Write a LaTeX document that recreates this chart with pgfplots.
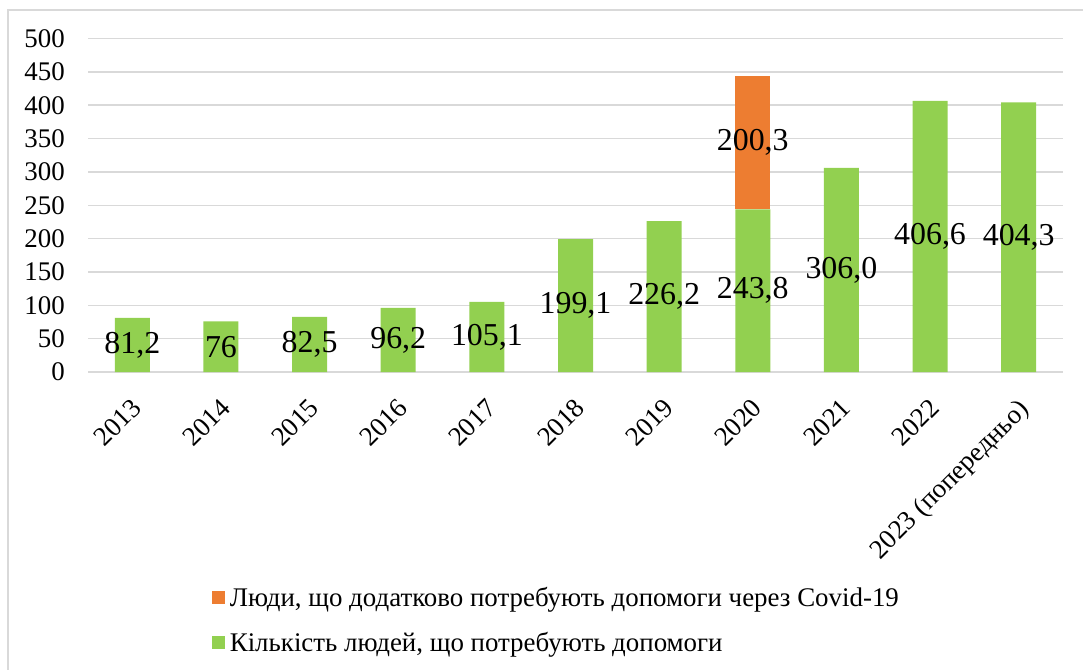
\documentclass[border=0pt]{standalone}
\usepackage{pgfplots}
\pgfplotsset{compat=1.18}
\usepackage{pgfplotstable}
\usepackage{fontspec}
\setmainfont{Liberation Serif}
\definecolor{barGreen}{HTML}{92D050}
\definecolor{barOrange}{HTML}{ED7D31}
\definecolor{gridgray}{HTML}{D9D9D9}

\pgfplotstableread{
x v lab
0 81.2 {81,2}
1 76 {76}
2 82.5 {82,5}
3 96.2 {96,2}
4 105.1 {105,1}
5 199.1 {199,1}
6 226.2 {226,2}
7 243.8 {243,8}
8 306.0 {306,0}
9 406.6 {406,6}
10 404.3 {404,3}
}\needtab

\pgfplotstableread{
x v
0 0
1 0
2 0
3 0
4 0
5 0
6 0
7 200.3
8 0
9 0
10 0
}\covidtab

% label for the Covid segment: base of segment, value, text
\pgfplotstableread{
x base v lab
7 243.8 200.3 {200,3}
}\covidlab

\begin{document}
\begin{tikzpicture}
\path[use as bounding box] (0,0) rectangle (1083bp,-670bp);
\draw[gridgray, line width=1.5bp] (8bp,-670bp) -- (8bp,-10bp) -- (1083bp,-10bp);
\pgfplotsset{common/.style={
  at={(88bp,-372bp)}, anchor=south west,
  scale only axis, width=975bp, height=333.5bp,
  xmin=-0.5, xmax=10.5, ymin=0, ymax=500}}
\begin{axis}[
  common,
  ybar stacked, bar width=35bp,
  ytick={0,50,...,500},
  xtick={0,...,10},
  xticklabels={2013,2014,2015,2016,2017,2018,2019,2020,2021,2022,2023 (попередньо)},
  axis line style={draw=none},
  major tick length=0pt,
  ymajorgrids, grid style={draw=gridgray, line width=1.5bp},
  tick label style={font=\fontsize{27}{27}\selectfont, text=black},
  /pgf/number format/assume math mode=true,
  yticklabel style={anchor=east, inner sep=0pt, xshift=-23bp},
  xticklabel style={xshift=-2bp, yshift=-25bp, rotate=45, anchor=north east, inner sep=0pt},
  reverse legend,
  legend style={draw=none, fill=none, inner sep=0pt, outer sep=0pt,
     at={(0.127,-0.645)}, anchor=north west, font=\fontsize{27}{27}\selectfont,
     nodes={inner sep=0pt, anchor=west}, row sep=24bp},
  legend cell align=left,
  legend image code/.code={\fill[#1,draw=none] (0bp,-6.5bp) rectangle (13bp,6.5bp); \path (18bp,0bp);},
]
\addplot[fill=barGreen, draw=none] table[x=x, y=v] {\needtab};
\addlegendentry{Кількість людей, що потребують допомоги}
\addplot[fill=barOrange, draw=none] table[x=x, y=v] {\covidtab};
\addlegendentry{Люди, що додатково потребують допомоги через Covid-19}
\end{axis}
\begin{axis}[
  common, hide axis,
  point meta=explicit symbolic,
  nodes near coords,
  every node near coord/.style={anchor=center, inner sep=0pt, text=black,
       font=\fontsize{32}{32}\selectfont},
]
\addplot[draw=none, mark=none] table[x=x, y expr=\thisrow{v}/2, meta=lab] {\needtab};
\addplot[draw=none, mark=none] table[x=x, y expr=\thisrow{base}+\thisrow{v}/2, meta=lab] {\covidlab};
\end{axis}
\end{tikzpicture}
\end{document}
